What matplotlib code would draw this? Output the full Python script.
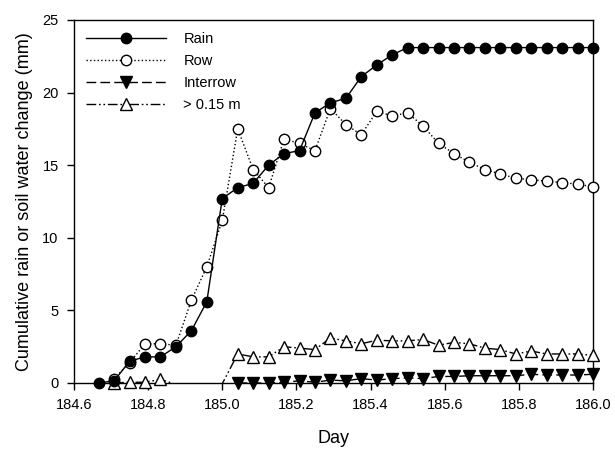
import numpy as np
import matplotlib
matplotlib.use("Agg")
import matplotlib.pyplot as plt
from matplotlib.lines import Line2D

plt.rcParams['font.family'] = ['Liberation Sans', 'DejaVu Sans']

# hourly readings, day 184.667 .. 186.0
day = 184.0 + np.arange(16, 49) / 24.0

rain = [0.0, 0.15, 1.5, 1.8, 1.8, 2.5, 3.6, 5.6, 12.7, 13.45, 13.75, 15.0, 15.8,
        16.0, 18.6, 19.3, 19.6, 21.1, 21.9, 22.6, 23.1, 23.1, 23.1, 23.1, 23.1,
        23.1, 23.1, 23.1, 23.1, 23.1, 23.1, 23.1, 23.1]

row = [np.nan, 0.3, 1.4, 2.7, 2.7, 2.6, 5.7, 8.0, 11.2, 17.5, 14.7, 13.45, 16.8,
       16.5, 16.0, 18.9, 17.8, 17.1, 18.7, 18.4, 18.6, 17.7, 16.5, 15.8, 15.2,
       14.7, 14.4, 14.1, 14.0, 13.9, 13.8, 13.7, 13.5]

interrow = [np.nan] * 9 + [0.0, 0.0, 0.0, 0.05, 0.15, 0.05, 0.2, 0.15, 0.3, 0.2,
                           0.3, 0.35, 0.3, 0.45, 0.45, 0.5, 0.5, 0.5, 0.5, 0.6,
                           0.55, 0.55, 0.55, 0.6]

# below 0.15 m; negative readings fall under the axis and are hidden
deep = [np.nan, 0.0, 0.05, 0.05, 0.25, -0.1, -0.5, -0.5, -0.05, 2.0, 1.8, 1.8, 2.5,
        2.4, 2.3, 3.1, 2.9, 2.7, 2.95, 2.9, 2.9, 3.0, 2.6, 2.8, 2.7, 2.4, 2.3,
        2.0, 2.2, 2.0, 2.0, 2.0, 1.9]

fig = plt.figure(figsize=(6.15, 4.5), dpi=100)
ax = fig.add_axes([0.1203, 0.1489, 0.8439, 0.8067])

ms = 7.5
ax.plot(day, rain, color='black', linestyle='-', linewidth=1.0, marker='o',
        markersize=ms, markerfacecolor='black', markeredgecolor='black',
        label='Rain', clip_on=False, zorder=5)
ax.plot(day, row, color='black', linestyle=':', linewidth=1.0, marker='o',
        markersize=ms, markerfacecolor='white', markeredgecolor='black',
        markeredgewidth=1.0, label='Row', clip_on=False, zorder=4)
ax.plot(day, interrow, color='black', linestyle=(0, (7, 3)), linewidth=1.0,
        marker='v', markersize=ms + 0.5, markerfacecolor='black',
        markeredgecolor='black', label='Interrow', clip_on=False, zorder=3)

deep_style = (0, (7, 2, 1.2, 2, 1.2, 2))
deep_arr = np.array(deep)
shown = np.nan_to_num(deep_arr, nan=-1) >= 0
ax.plot(day, deep, color='black', linestyle=deep_style, linewidth=1.0, zorder=3)
ax.plot(day[shown], deep_arr[shown], linestyle='none', marker='^',
        markersize=ms + 0.5, markerfacecolor='white', markeredgecolor='black',
        markeredgewidth=1.0, clip_on=False, zorder=3)

ax.set_xlim(184.6, 186.0)
ax.set_ylim(0, 25)
xt = np.arange(184.6, 186.01, 0.2)
ax.set_xticks(xt)
ax.set_xticklabels([f"{v:.1f}" for v in xt])
ax.set_yticks([0, 5, 10, 15, 20, 25])

ax.tick_params(direction='out', length=5, width=1, labelsize=10.5, pad=6)
for s in ax.spines.values():
    s.set_linewidth(1.0)

ax.set_xlabel('Day', fontsize=13, labelpad=13)
ax.set_ylabel('Cumulative rain or soil water change (mm)', fontsize=13, labelpad=7)

handles, labels = ax.get_legend_handles_labels()
handles.append(Line2D([], [], color='black', linestyle=deep_style, linewidth=1.0,
                      marker='^', markersize=ms + 0.5, markerfacecolor='white',
                      markeredgecolor='black'))
labels.append('> 0.15 m')
ax.legend(handles, labels, loc='upper left', frameon=False, fontsize=10.5,
          handlelength=5.5, handletextpad=1.2, labelspacing=0.55,
          borderaxespad=0.4, bbox_to_anchor=(0.0, 1.0))

fig.savefig('out.png', dpi=100)
